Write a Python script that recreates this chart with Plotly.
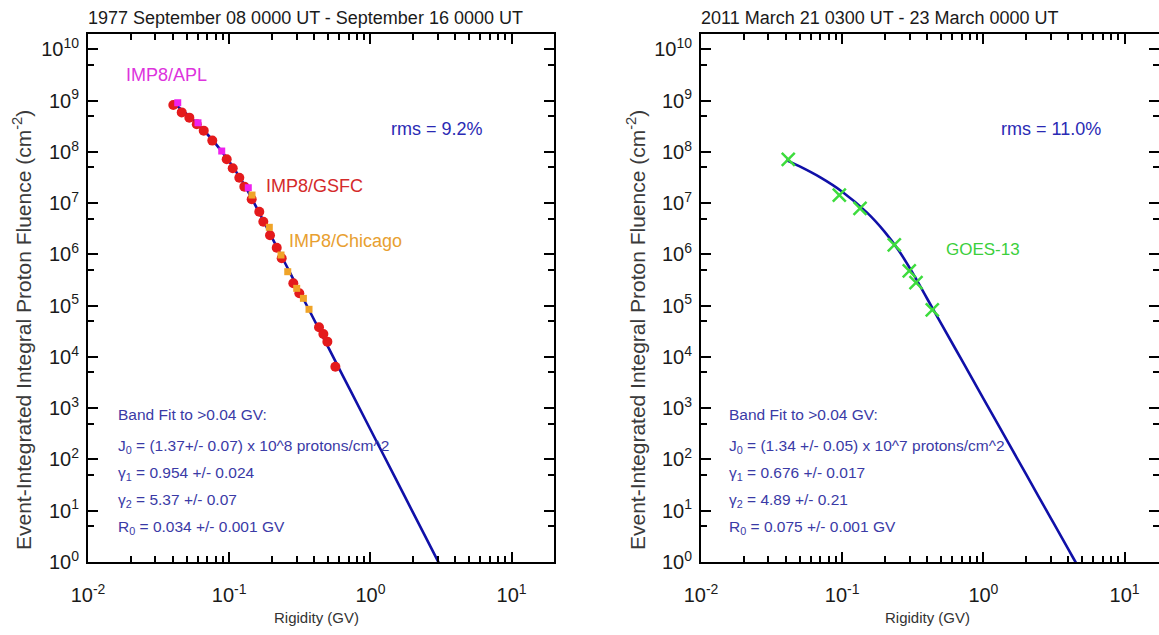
import plotly.graph_objects as go

# ---------------- data ----------------
# Left panel: 1977 September event
gsfc_r = [0.0402, 0.0461, 0.0522, 0.0589, 0.0660, 0.0759, 0.0960, 0.1059, 0.1179, 0.128,
          0.1443, 0.1633, 0.1744, 0.1945, 0.2170, 0.2353, 0.2844, 0.3136, 0.4325, 0.4642,
          0.4955, 0.5646]
gsfc_f = [8.2e8, 5.9e8, 4.66e8, 3.46e8, 2.6e8, 1.66e8, 7.2e7, 4.8e7, 3.14e7, 2.1e7,
          1.19e7, 6.8e6, 4.35e6, 2.36e6, 1.35e6, 8.4e5, 2.74e5, 1.75e5, 3.79e4, 2.8e4,
          1.99e4, 6.46e3]
apl_r = [0.0432, 0.0601, 0.0885, 0.1365]
apl_f = [9.1e8, 3.7e8, 1.04e8, 2.0e7]
chi_r = [0.1450, 0.1923, 0.2327, 0.2597, 0.3006, 0.3353, 0.3674]
chi_f = [1.44e7, 3.38e6, 9.75e5, 4.6e5, 2.18e5, 1.39e5, 8.5e4]
fit1_r = [0.04, 0.05, 0.06, 0.07, 0.08, 0.10, 0.12, 0.13, 0.15, 0.20, 0.25, 0.30, 0.40,
          0.50, 0.70, 1.0, 1.5, 2.0, 3.0, 3.5]
fit1_f = [9.11e8, 5.48e8, 3.43e8, 2.21e8, 1.45e8, 6.51e7, 3.04e7, 2.10e7, 1.015e7, 2.18e6,
          6.57e5, 2.47e5, 5.26e4, 1.59e4, 2609, 384.7, 43.6, 9.28, 1.05, 0.46]

# Right panel: 2011 March event
goes_r = [0.0415, 0.0954, 0.1337, 0.2339, 0.2985, 0.3332, 0.4345]
goes_f = [7.18e7, 1.44e7, 7.9e6, 1.53e6, 4.8e5, 2.81e5, 8.25e4]
fit2_r = [0.04, 0.05, 0.07, 0.10, 0.15, 0.20, 0.25, 0.316, 0.40, 0.50, 0.70, 1.0, 1.5,
          2.0, 3.0, 4.0, 4.5, 5.0]
fit2_f = [6.93e7, 5.21e7, 3.18e7, 1.675e7, 6.54e6, 2.76e6, 1.22e6, 4.32e5, 1.365e5,
          4.58e4, 8.84e3, 1545, 213, 52.2, 7.18, 1.76, 0.99, 0.59]

# tick labels
x_tickvals = [0.01, 0.1, 1, 10]
x_ticktext = ["10<sup>-2</sup>", "10<sup>-1</sup>", "10<sup>0</sup>", "10<sup>1</sup>"]
y_tickvals = [10 ** k for k in range(0, 11)]
y_ticktext = ["10<sup>%d</sup>" % k for k in range(0, 11)]
x_minor = [m * 10.0 ** e for e in (-2, -1, 0, 1) for m in range(2, 10)]
y_minor = [5 * 10.0 ** e for e in range(0, 11)]

# ---------------- figure ----------------
W, H = 1159, 635
FONT = "Liberation Sans, Arial, Helvetica, sans-serif"
LINE = "#1010a8"
TXT = "#3a3aa6"

def px_x(p):
    return p / W

def px_y(p):
    return 1 - p / H

fig = go.Figure()

fig.add_trace(go.Scatter(x=fit1_r, y=fit1_f, mode="lines", line=dict(color=LINE, width=2.6, shape="spline"),
                         xaxis="x", yaxis="y", showlegend=False))
fig.add_trace(go.Scatter(x=gsfc_r, y=gsfc_f, mode="markers",
                         marker=dict(symbol="circle", size=10, color="#e41a1c"),
                         xaxis="x", yaxis="y", showlegend=False))
fig.add_trace(go.Scatter(x=apl_r, y=apl_f, mode="markers",
                         marker=dict(symbol="square", size=7, color="#ee22ee"),
                         xaxis="x", yaxis="y", showlegend=False))
fig.add_trace(go.Scatter(x=chi_r, y=chi_f, mode="markers",
                         marker=dict(symbol="square", size=7, color="#f0a428"),
                         xaxis="x", yaxis="y", showlegend=False))

fig.add_trace(go.Scatter(x=fit2_r, y=fit2_f, mode="lines", line=dict(color=LINE, width=2.6, shape="spline"),
                         xaxis="x2", yaxis="y2", showlegend=False))
fig.add_trace(go.Scatter(x=goes_r, y=goes_f, mode="markers",
                         marker=dict(symbol="x-thin", size=13, color="#3ddc3d",
                                     line=dict(color="#3ddc3d", width=2.5)),
                         xaxis="x2", yaxis="y2", showlegend=False))

tickfont = dict(family=FONT, size=20, color="#1a1a1a")

def xax(domain, rng, anchor):
    return dict(domain=domain, type="log", range=rng, anchor=anchor, automargin=False,
                tickmode="array", tickvals=x_tickvals, ticktext=x_ticktext,
                ticks="inside", ticklen=10, tickwidth=2, tickcolor="black",
                showline=True, linewidth=2, linecolor="black", mirror="ticks",
                showgrid=False, zeroline=False, tickfont=tickfont, ticklabelstandoff=14,
                minor=dict(tickmode="array", tickvals=x_minor, ticks="inside", ticklen=6,
                           tickwidth=1.5, tickcolor="black", showgrid=False))

def yax(domain, anchor):
    return dict(domain=domain, type="log", range=[0, 10.3], anchor=anchor, automargin=False,
                tickmode="array", tickvals=y_tickvals, ticktext=y_ticktext,
                ticks="inside", ticklen=10, tickwidth=2, tickcolor="black",
                showline=True, linewidth=2, linecolor="black", mirror="ticks",
                showgrid=False, zeroline=False, tickfont=tickfont, ticklabelstandoff=3,
                minor=dict(tickmode="array", tickvals=y_minor, ticks="inside", ticklen=6,
                           tickwidth=1.5, tickcolor="black", showgrid=False))

ydom = [px_y(562), px_y(34)]
fig.update_layout(
    width=W, height=H, margin=dict(l=0, r=0, t=0, b=0, autoexpand=False),
    paper_bgcolor="white", plot_bgcolor="white",
    xaxis=xax([px_x(88), px_x(554)], [-2, 1.3], "y"),
    yaxis=yax(ydom, "x"),
    xaxis2=xax([px_x(701), 1.0], [-2, -2 + (W - 701) / 141.2], "y2"),
    yaxis2=yax(ydom, "x2"),
    showlegend=False,
)

def ann(text, x, y, size, color, xanchor="left", angle=0):
    fig.add_annotation(text=text, x=px_x(x), y=px_y(y), xref="paper", yref="paper",
                       xanchor=xanchor, yanchor="middle", showarrow=False, textangle=angle,
                       font=dict(family=FONT, size=size, color=color))

# titles
ann("1977 September 08 0000 UT - September 16 0000 UT", 86, 18, 18, "#1a1a1a")
ann("2011 March 21 0300 UT - 23 March 0000 UT", 699, 18, 18, "#1a1a1a")
# axis titles
ann("Event-Integrated Integral Proton Fluence (cm<sup>-2</sup>)", 22, 330, 21, "#3a3a3a", "center", -90)
ann("Event-Integrated Integral Proton Fluence (cm<sup>-2</sup>)", 636, 330, 21, "#3a3a3a", "center", -90)
ann("Rigidity (GV)", 316, 617, 15, "#333333", "center")
ann("Rigidity (GV)", 927, 617, 15, "#333333", "center")

# instrument labels
ann("IMP8/APL", 124, 75, 18, "#dd33dd")
ann("IMP8/GSFC", 264, 186, 18, "#d42a2a")
ann("IMP8/Chicago", 287, 241, 18, "#e8a030")
ann("GOES-13", 944, 250, 17, "#3ccf3c")
ann("rms = 9.2%", 389, 129, 18, "#2a2ab4")
ann("rms = 11.0%", 999, 129, 18, "#2a2ab4")

# fit parameter blocks
left_lines = ["Band Fit to >0.04 GV:",
              "J<sub>0</sub> = (1.37+/- 0.07) x 10^8 protons/cm^2",
              "\u03b3<sub>1</sub> = 0.954 +/- 0.024",
              "\u03b3<sub>2</sub> = 5.37 +/- 0.07",
              "R<sub>0</sub> = 0.034 +/- 0.001 GV"]
right_lines = ["Band Fit to >0.04 GV:",
               "J<sub>0</sub> = (1.34 +/- 0.05) x 10^7 protons/cm^2",
               "\u03b3<sub>1</sub> = 0.676 +/- 0.017",
               "\u03b3<sub>2</sub> = 4.89 +/- 0.21",
               "R<sub>0</sub> = 0.075 +/- 0.001 GV"]
ys = [414, 446, 473, 500, 527]
for t, yy in zip(left_lines, ys):
    ann(t, 116, yy, 15.5, TXT)
for t, yy in zip(right_lines, ys):
    ann(t, 727, yy, 15.5, TXT)

fig.write_html("out.html")
